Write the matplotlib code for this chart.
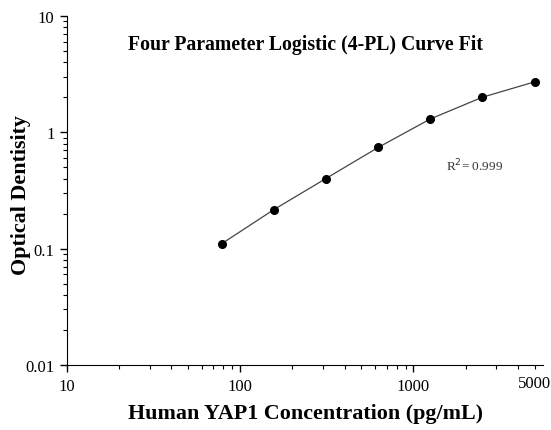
import matplotlib.pyplot as plt
from matplotlib.ticker import FixedLocator, FuncFormatter, NullFormatter

# standard curve points
conc = [78, 156, 312, 625, 1250, 2500, 5000]
od = [0.110, 0.216, 0.400, 0.740, 1.30, 2.00, 2.71]

y_ticks = [0.01, 0.1, 1, 10]
y_labels = ['0.01', '0.1', '1', '10']
x_ticks = [10, 100, 1000]
x_labels = ['10', '100', '1000']

plt.rcParams['font.family'] = ['Liberation Serif', 'DejaVu Serif']

fig = plt.figure(figsize=(5.51, 4.31), dpi=100)
ax = fig.add_axes([0.1216, 0.1508, 0.864, 0.81])

ax.plot(conc, od, '-', color='#444444', lw=0.9)
ax.plot(conc, od, 'o', color='black', ms=5.5)

ax.set_xscale('log')
ax.set_yscale('log')
ax.set_xlim(10, 5600)
ax.set_ylim(0.01, 10)

ax.xaxis.set_major_locator(FixedLocator(x_ticks))
ax.set_xticklabels(x_labels)
ax.xaxis.set_minor_locator(FixedLocator([m * d for d in (10, 100, 1000) for m in range(2, 10) if m * d < 5600]))
ax.xaxis.set_minor_formatter(FuncFormatter(lambda v, p: '5000' if abs(v - 5000) < 1 else ''))
ax.yaxis.set_major_locator(FixedLocator(y_ticks))
ax.set_yticklabels(y_labels)
ax.yaxis.set_minor_locator(FixedLocator([m * d for d in (0.01, 0.1, 1) for m in range(2, 10)]))
ax.yaxis.set_minor_formatter(NullFormatter())

for s in ['top', 'right']:
    ax.spines[s].set_visible(False)
ax.tick_params(which='major', length=5, width=1, labelsize=12, pad=4)
ax.tick_params(which='minor', length=3, width=0.8, labelsize=12, pad=4)

ax.set_xlabel('Human YAP1 Concentration (pg/mL)', fontsize=15.8, fontweight='bold')
ax.xaxis.set_label_coords(0.5, -0.11)
ax.set_ylabel('Optical Dentisity', fontsize=15.8, fontweight='bold')
ax.yaxis.set_label_coords(-0.076, 0.49)
ax.text(0.5, 0.92, 'Four Parameter Logistic (4-PL) Curve Fit', transform=ax.transAxes,
        ha='center', va='center', fontsize=14.2, fontweight='bold')
ax.text(0.796, 0.572, r'R$^2$= 0.999', transform=ax.transAxes, ha='left', va='center',
        fontsize=9.5, color='#333333')

fig.savefig('out.png', dpi=100)
